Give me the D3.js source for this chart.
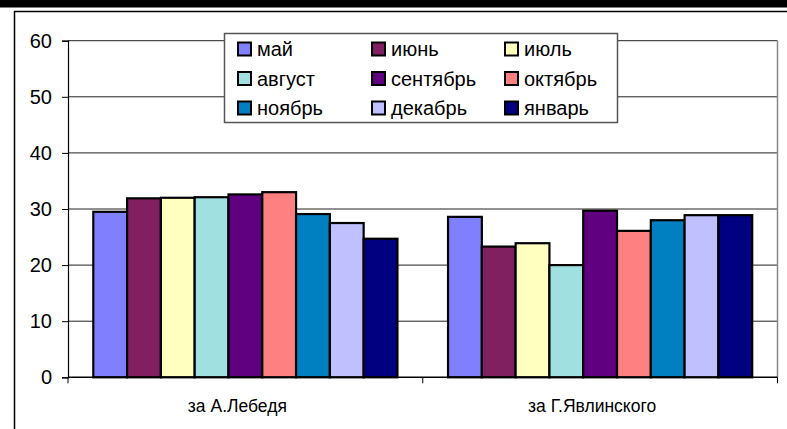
<!DOCTYPE html>
<html><head><meta charset="utf-8">
<script src="https://cdn.jsdelivr.net/npm/d3@7"></script>
<style>body{margin:0;background:#fff}svg{display:block}text{font-family:"Liberation Sans",Arial,sans-serif;fill:#000}</style>
</head><body><svg id="c" width="787" height="429"></svg>
<script>
const categories = ["за А.Лебедя", "за Г.Явлинского"];
const months = ["май","июнь","июль","август","сентябрь","октябрь","ноябрь","декабрь","январь"];
const lebed = [29.5, 31.9, 32.0, 32.1, 32.6, 33.0, 29.1, 27.5, 24.7];
const yavlinsky = [28.6, 23.3, 23.9, 20.0, 29.7, 26.1, 28.0, 28.9, 28.9];
const colors = ["#8080FF","#802060","#FFFFC0","#A0E0E0","#600080","#FF8080","#0080C0","#C0C0FF","#000080"];
const yTicks = [0,10,20,30,40,50,60];
const series = [lebed, yavlinsky];

const svg = d3.select("#c");
const L = 68, R = 777.5, T = 40.7, B = 377.3;

// frame
svg.append("rect").attr("x",0).attr("y",0).attr("width",787).attr("height",7.5).attr("fill","#000");
svg.append("line").attr("x1",14).attr("x2",787).attr("y1",11.5).attr("y2",11.5).attr("stroke","#000").attr("stroke-width",1.5);
svg.append("line").attr("x1",14.5).attr("x2",14.5).attr("y1",11).attr("y2",429).attr("stroke","#000").attr("stroke-width",1.5);

const y = d3.scaleLinear().domain([0,60]).range([B,T]);
const x0 = d3.scaleBand().domain(categories).range([L,R]);
const x1 = d3.scaleBand().domain(months).range([25.3, x0.bandwidth()-25.3]);

// gridlines
svg.append("g").selectAll("line").data(yTicks.filter(d=>d>0)).join("line")
  .attr("x1",L).attr("x2",R).attr("y1",d=>y(d)).attr("y2",d=>y(d))
  .attr("stroke","#222").attr("stroke-width",1);

// plot right border
svg.append("line").attr("x1",R).attr("x2",R).attr("y1",T).attr("y2",B).attr("stroke","#888").attr("stroke-width",1.5);

// bars
const g = svg.append("g");
categories.forEach((c,ci)=>{
  g.append("g").selectAll("rect").data(series[ci]).join("rect")
    .attr("x",(d,i)=>x0(c)+x1(months[i]))
    .attr("y",d=>y(d))
    .attr("width",x1.bandwidth())
    .attr("height",d=>B-y(d))
    .attr("fill",(d,i)=>colors[i])
    .attr("stroke","#000").attr("stroke-width",2.2);
});

// y axis
const ya = svg.append("g").attr("transform",`translate(${L},0)`)
  .call(d3.axisLeft(y).tickValues(yTicks).tickSize(6).tickPadding(10));
ya.select(".domain").attr("stroke","#000").attr("stroke-width",1.2);
ya.selectAll(".tick line").attr("stroke","#000");
ya.selectAll(".tick text").attr("font-size",20).attr("font-family","Liberation Sans, Arial, sans-serif").attr("fill","#000");

// x axis
svg.append("line").attr("x1",L).attr("x2",R).attr("y1",B).attr("y2",B).attr("stroke","#000").attr("stroke-width",1.5);
const xt = [L, L+x0.bandwidth(), R];
svg.append("g").selectAll("line").data(xt).join("line")
  .attr("x1",d=>d).attr("x2",d=>d).attr("y1",B).attr("y2",B+6).attr("stroke","#000").attr("stroke-width",1);
svg.append("g").selectAll("text").data(categories).join("text")
  .attr("x",d=>x0(d)+x0.bandwidth()/2-8).attr("y",412)
  .attr("text-anchor","middle").attr("font-size",17.5).text(d=>d);

// legend
const lg = svg.append("g");
lg.append("rect").attr("x",224.5).attr("y",33.5).attr("width",393).attr("height",89)
  .attr("fill","#fff").attr("stroke","#555").attr("stroke-width",1.5);
const colX = [238, 372, 505];
const rowY = [49, 78.5, 108];
months.forEach((m,i)=>{
  const cx = colX[i%3], cy = rowY[Math.floor(i/3)];
  lg.append("rect").attr("x",cx).attr("y",cy-6.5).attr("width",13).attr("height",13)
    .attr("fill",colors[i]).attr("stroke","#000").attr("stroke-width",2);
  lg.append("text").attr("x",cx+19).attr("y",cy).attr("dy","0.35em").attr("font-size",20).text(m);
});
</script></body></html>
